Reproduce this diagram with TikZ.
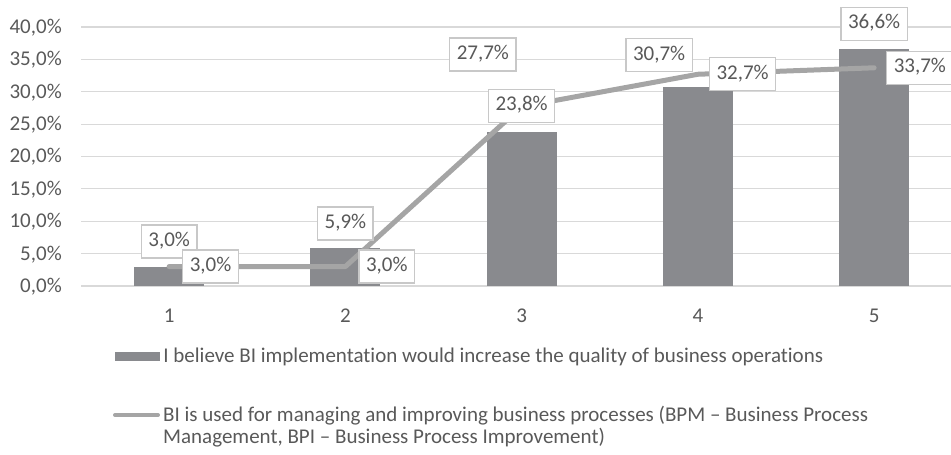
\documentclass[tikz,border=0pt]{standalone}
\usepackage{fontspec}
\setmainfont{Carlito}[Ligatures=NoCommon]
\usetikzlibrary{positioning}
\definecolor{bargray}{HTML}{898A8E}
\definecolor{linegray}{HTML}{A5A5A5}
\definecolor{txtgray}{HTML}{595959}
\definecolor{gridgray}{HTML}{D9D9D9}
\definecolor{boxgray}{HTML}{C8C8C8}
\tikzstyle{grid} = [draw=gridgray, line width=1.2pt]
\tikzstyle{bar} = [fill=bargray, draw=none]
\tikzstyle{series} = [draw=linegray, line width=5pt, line cap=round, line join=round]
\tikzstyle{lbl} = [draw=boxgray, fill=white, line width=1.3pt, text=txtgray, inner xsep=7pt, inner ysep=8.5pt, text height=13pt, text depth=3pt]
\tikzstyle{tick} = [text=txtgray, inner sep=0pt, text height=13pt, text depth=0pt]
\tikzstyle{legend} = [text=txtgray, inner sep=0pt]

\begin{document}
\begin{tikzpicture}[x=1pt,y=1pt,font=\fontsize{21}{24}\selectfont]
  \useasboundingbox (0,0) rectangle (951,455);
  \begin{scope}[shift={(-7.125,169)},x=176.25pt,y=6.475pt]
    \foreach \v in {0,5,10,15,20,25,30,35,40} {
      \draw [grid] (0.5,\v) -- (5.436,\v);
      \node [tick, anchor=east] (y\v) at (0.392,\v) {\v,0\%};
    }
    \foreach \i/\v/\w in {1/3.0/3.0, 2/5.9/3.0, 3/23.8/27.7, 4/30.7/32.7, 5/36.6/33.7} {
      \fill [bar] (\i-0.199,0) rectangle (\i+0.199,\v);
      \coordinate (bar\i) at (\i,\v);
      \coordinate (pt\i) at (\i,\w);
      \node [tick] (x\i) at (\i,-4.6) {\i};
    }
    \draw [series] (pt1) -- (pt2) -- (pt3) -- (pt4) -- (pt5);
  \end{scope}
  \node [lbl, above=8pt of bar1] (barlbl1) {3,0\%};
  \node [lbl, right=13pt of pt1] (ptlbl1) {3,0\%};
  \node [lbl, above=7pt of bar2] (barlbl2) {5,9\%};
  \node [lbl, right=13pt of pt2] (ptlbl2) {3,0\%};
  \node [lbl, above=9pt of bar3] (barlbl3) {23,8\%};
  \node [lbl, above left=35pt and 5pt of pt3] (ptlbl3) {27,7\%};
  \node [lbl, above left=15pt and 5pt of bar4] (barlbl4) {30,7\%};
  \node [lbl, right=11pt of pt4] (ptlbl4) {32,7\%};
  \node [lbl, above=8pt of bar5] (barlbl5) {36,6\%};
  \node [lbl, right=12pt of pt5] (ptlbl5) {33,7\%};

  \node [bar, minimum width=45pt, minimum height=9pt, inner sep=0pt] (barkey) at (137.5,98.5) {};
  \node [legend, text height=13pt, text depth=0pt, right=3pt of barkey] (barkeytxt) {I believe BI implementation would increase the quality of business operations};
  \coordinate (linekeyA) at (115,40);
  \coordinate (linekeyB) at (158,40);
  \draw [series, line width=4pt] (linekeyA) -- (linekeyB);
  \node [legend, align=left, anchor=north west, font=\fontsize{21}{21.5}\selectfont] (linekeytxt) at (163,49) {BI is used for managing and improving business processes (BPM -- Business Process\\Management, BPI -- Business Process Improvement)};
\end{tikzpicture}
\end{document}
